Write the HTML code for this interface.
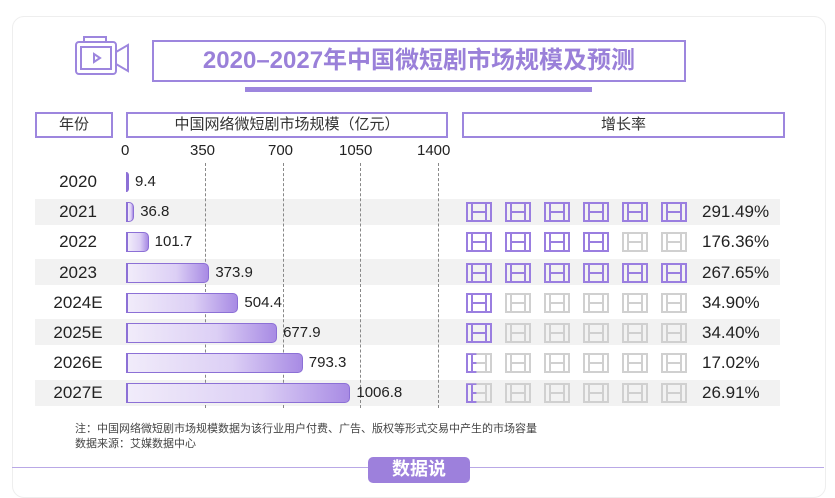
<!DOCTYPE html>
<html><head><meta charset="utf-8"><style>
body{margin:0;width:835px;height:480px;background:#fff;font-family:"Liberation Sans","Noto Sans CJK SC",sans-serif;overflow:hidden;position:relative}
.a{position:absolute}
.card{left:12px;top:16px;width:812px;height:480px;border:1px solid #eee;border-radius:12px}
.hb{border:2px solid #9d86de;height:22px;line-height:22px;text-align:center;font-size:15px;color:#333;background:#fff}
.row{left:35px;width:745px;height:26px;background:#f2f2f2}
.yr{font-size:17px;color:#222;left:42px;width:72px;text-align:center}
.bar{left:126px;height:20px;border:1.5px solid #8c70d6;border-left:2px solid #8c70d6;border-radius:0 5px 5px 0;background:linear-gradient(90deg,#f1ecfa,#dccff5 60%,#a88be4);box-sizing:border-box}
.val{font-size:15px;color:#222}
.pct{font-size:17px;color:#222;left:702px}
.tick{font-size:15px;color:#222;top:142px}
.dash{top:163px;height:245px;border-left:1.5px dashed #888;width:0}
</style></head><body>
<div class="a card"></div>
<svg class="a" style="left:74px;top:36px" width="64" height="40" viewBox="0 0 64 40"><g fill="none" stroke="#9d86de" stroke-width="2"><rect x="10" y="1" width="22" height="5"/><rect x="2" y="6" width="40" height="32" rx="3"/><rect x="7" y="11" width="30" height="22"/><path d="M42 16 L54 9 V35 L42 28"/><path d="M20 18 L26 22 L20 26Z"/></g></svg>
<div class="a" style="left:152px;top:40px;width:530px;height:38px;border:2px solid #9d86de;text-align:center;line-height:38px;font-size:24px;font-weight:bold;color:#9a80d9">2020–2027年中国微短剧市场规模及预测</div>
<div class="a" style="left:245px;top:87px;width:347px;height:5px;background:#9d86de"></div>
<div class="a hb" style="left:35px;top:112px;width:74px">年份</div>
<div class="a hb" style="left:126px;top:112px;width:318px">中国网络微短剧市场规模（亿元）</div>
<div class="a hb" style="left:462px;top:112px;width:319px">增长率</div>
<div class="a tick" style="left:121px">0</div>
<div class="a tick" style="left:190px">350</div>
<div class="a tick" style="left:268px">700</div>
<div class="a tick" style="left:339px">1050</div>
<div class="a tick" style="left:417px">1400</div>
<div class="a row" style="top:199px"></div>
<div class="a row" style="top:259px"></div>
<div class="a row" style="top:319px"></div>
<div class="a row" style="top:380px"></div>
<div class="a dash" style="left:205px"></div>
<div class="a dash" style="left:283px"></div>
<div class="a dash" style="left:360px"></div>
<div class="a dash" style="left:438px"></div>
<div id="rows"></div>
<div class="a" style="left:75px;top:420px;font-size:11px;color:#444">注：中国网络微短剧市场规模数据为该行业用户付费、广告、版权等形式交易中产生的市场容量</div>
<div class="a" style="left:75px;top:435px;font-size:11px;color:#444">数据来源：艾媒数据中心</div>
<div class="a" style="left:12px;top:467px;width:812px;height:1px;background:#b9a8e6"></div>
<div class="a" style="left:368px;top:457px;width:102px;height:26px;background:#9d80dc;border-radius:5px;color:#fff;font-size:18px;font-weight:bold;text-align:center;line-height:24px">数据说</div>
<script>
var d=[["2020",9.4,null,0],["2021",36.8,"291.49%",6],["2022",101.7,"176.36%",4],["2023",373.9,"267.65%",6],["2024E",504.4,"34.90%",1],["2025E",677.9,"34.40%",1],["2026E",793.3,"17.02%",0.5],["2027E",1006.8,"26.91%",0.5]];
var h="";
d.forEach(function(r,i){var c=182+i*30.2;var w=Math.max(3,r[1]*312/1400);
h+='<div class="a yr" style="top:'+(c-10)+'px">'+r[0]+'</div>';
h+='<div class="a bar" style="top:'+(c-10)+'px;width:'+w+'px"></div>';
h+='<div class="a val" style="left:'+(128+w+4)+'px;top:'+(c-9)+'px">'+r[1]+'</div>';
if(r[2]){h+='<div class="a pct" style="top:'+(c-10)+'px">'+r[2]+'</div>';
for(var k=0;k<6;k++){var col=k<Math.floor(r[3])?'#9a7ee0':(k<r[3]?'half':'#d0d0d0');var x=466+k*39;
var cc=col=='half'?'#9a7ee0':col;var op=col=='half'?'style="clip-path:inset(0 55% 0 0)"':'';
var svg=function(cl,extra){return '<svg class="a" '+extra+' width="26" height="20" viewBox="0 0 26 20"><g fill="none" stroke="'+cl+'" stroke-width="2"><rect x="1" y="1" width="24" height="18"/><line x1="6" y1="1" x2="6" y2="19"/><line x1="20" y1="1" x2="20" y2="19"/><line x1="6" y1="10" x2="20" y2="10"/></g></svg>'};
var pos='style="left:'+x+'px;top:'+(c-10)+'px"';
if(col=='half'){h+=svg('#d0d0d0',pos);h+=svg('#9a7ee0','style="left:'+x+'px;top:'+(c-10)+'px;clip-path:inset(0 60% 0 0)"');}
else h+=svg(col,pos);}}
});
document.getElementById('rows').innerHTML=h;
</script>
</body></html>
